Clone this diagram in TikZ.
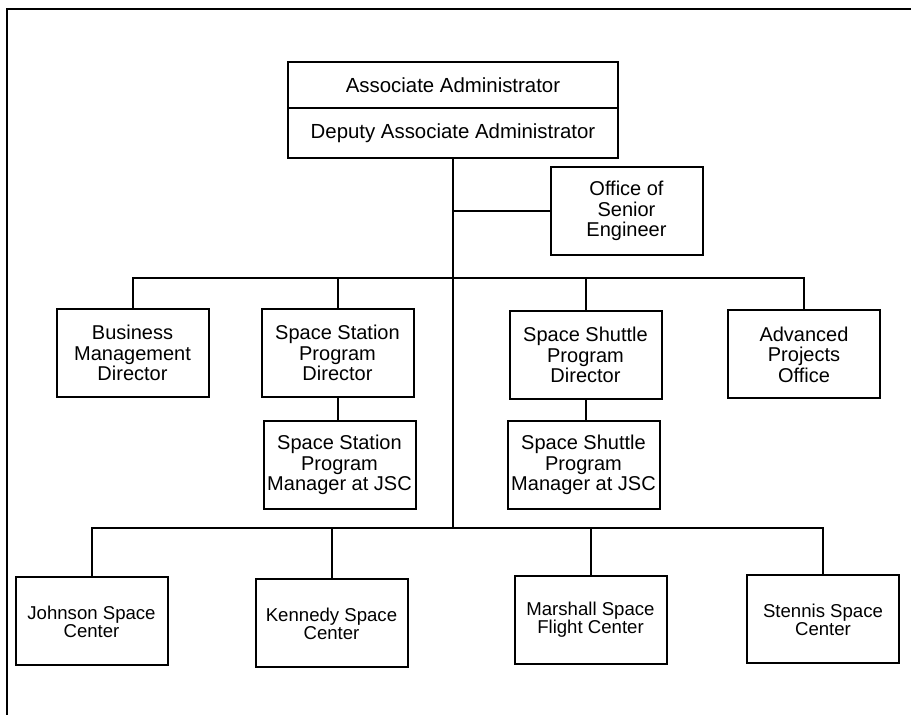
\documentclass[tikz,border=0pt]{standalone}
\usepackage{fontspec}
\setmainfont{Liberation Sans}

\begin{document}
\begin{tikzpicture}[x=0.5pt, y=-0.5pt]

\tikzset{
  box/.style={draw, line width=1pt, align=center, inner sep=0pt,
    minimum width=76pt, minimum height=44pt,
    font=\fontsize{10}{10.2}\selectfont},
  center/.style={box, font=\fontsize{9.3}{8.9}\selectfont},
  headbox/.style={draw, line width=1pt, align=center, inner sep=0pt,
    minimum width=165pt, font=\fontsize{10.2}{12}\selectfont},
  link/.style={line width=1pt}
}

\useasboundingbox (0,0) rectangle (911,715);

% --- Moldura ---
\begin{scope}
  \clip (0,0) rectangle (911,715);
  \draw[line width=1.4pt] (7,9) rectangle (930,740);
\end{scope}

% --- Nós ---

% Topo: administrador e adjunto
\node[headbox, minimum height=23pt] (assoc)  at (453,85)  {Associate Administrator};
\node[headbox, minimum height=25pt] (deputy) at (453,133) {Deputy Associate Administrator};

% Staff
\node[box] (ose) at (626.5,211) {Office of\\Senior\\Engineer};

% Nível 1: diretorias
\node[box] (bmd)  at (132.5,353) {Business\\Management\\Director};
\node[box] (sspd) at (337.5,353) {Space Station\\Program\\Director};
\node[box] (shpd) at (585.5,355) {Space Shuttle\\Program\\Director};
\node[box] (apo)  at (804,354.5) {Advanced\\Projects\\Office};

% Nível 2: gerentes no JSC
\node[box] (sspm) at (339.5,465) {Space Station\\Program\\Manager at JSC};
\node[box] (shpm) at (583.5,465) {Space Shuttle\\Program\\Manager at JSC};

% Nível 3: centros
\node[center] (jsc)  at (91.5,621.5) {Johnson Space\\Center};
\node[center] (ksc)  at (331.5,623.5) {Kennedy Space\\Center};
\node[center] (msfc) at (590.5,620) {Marshall Space\\Flight Center};
\node[center] (ssc)  at (823,619.5) {Stennis Space\\Center};

% Barramentos
\coordinate (bar1) at (449,278);
\coordinate (bar2) at (449,528);

% --- Linhas ---
% Tronco principal
\draw[link] (deputy.south) -- (deputy.south |- bar2);
\draw[link] (deputy.south |- ose.west) -- (ose.west);

% Diretorias
\draw[link] (bmd.north) |- (apo.north |- bar1) -- (apo.north);
\draw[link] (sspd.north) -- (sspd.north |- bar1);
\draw[link] (shpd.north) -- (shpd.north |- bar1);

% Gerentes
\draw[link] (sspd.south) -- (sspd.south |- sspm.north);
\draw[link] (shpd.south) -- (shpd.south |- shpm.north);

% Centros
\draw[link] (jsc.north) |- (ssc.north |- bar2) -- (ssc.north);
\draw[link] (ksc.north) -- (ksc.north |- bar2);
\draw[link] (msfc.north) -- (msfc.north |- bar2);

\end{tikzpicture}
\end{document}
